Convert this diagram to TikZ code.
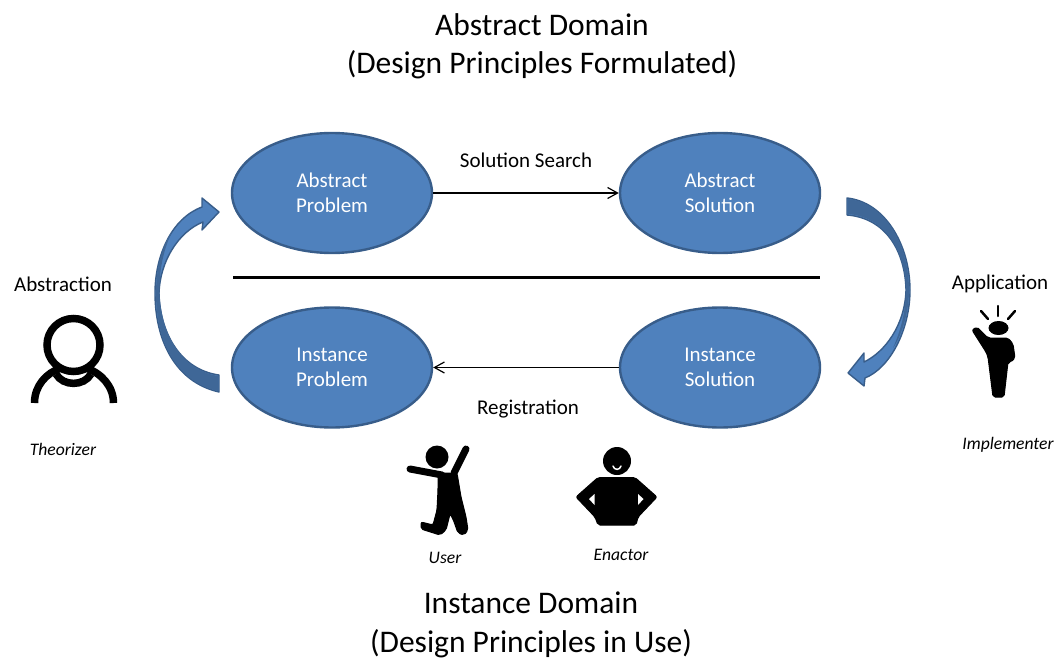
\documentclass[tikz,border=0pt]{standalone}
\usepackage{fontspec}
\setmainfont{Carlito}
\usetikzlibrary{arrows.meta,shapes.geometric}
\definecolor{blueF}{HTML}{4F81BD}
\definecolor{blueL}{HTML}{385D8A}
\definecolor{blueD}{HTML}{3F6797}
\tikzset{
  x=1pt,y=-1pt,
  state/.style={ellipse,draw=blueL,line width=2.4pt,fill=blueF,minimum width=200pt,minimum height=120pt,inner sep=0pt,text=white,align=center,font=\fontsize{21}{24.5}\selectfont},
  title/.style={align=center,inner sep=0pt,font=\fontsize{31.5}{38.5}\selectfont},
  lab/.style={font=\fontsize{21}{24}\selectfont},
  role/.style={font=\fontsize{17.6}{20}\selectfont\itshape},
  flow/.style={draw=black,line width=1.2pt,-{Straight Barb[length=10pt,width=11pt,line width=1.2pt]}},
  curl/.style={fill=blueF,draw=blueL,line width=1.4pt,line join=round},
  fold/.style={fill=blueD,draw=none},
  icon/.style={fill=black,draw=black,line width=1pt,line join=round,rounded corners=2pt},
  ring/.style={draw=black,line width=7.5pt},
  limb/.style={draw=black,line width=7pt,line cap=round}
}
\begin{document}
\begin{tikzpicture}
\useasboundingbox (0,0) rectangle (1056,660);
% titles
\node[title] (t1) at (542,46.5) {Abstract Domain\\(Design Principles Formulated)};
\node[title] (t2) at (531,625) {Instance Domain\\(Design Principles in Use)};
% states
\node[state] (ap) at (332,193) {Abstract\\Problem};
\node[state] (as) at (720,193) {Abstract\\Solution};
\node[state] (ip) at (332,367.5) {Instance\\Problem};
\node[state] (is) at (720,367.5) {Instance\\Solution};
\draw[flow] (ap) -- (as);
\draw[flow] (is) -- (ip);
\coordinate (divL) at (233,277);
\coordinate (divR) at (820,277);
\draw[line width=3pt,black] (divL) -- (divR);
% labels
\node[lab] (l1) at (526,160) {Solution Search};
\node[lab] (l2) at (528,409.5) {Registration};
\node[lab] (l3) at (63,284.5) {Abstraction};
\node[lab] (l4) at (1000,283.5) {Application};
\node[role] (r1) at (63,449.5) {Theorizer};
\node[role] (r2) at (1008,444.5) {Implementer};
\node[role] (r3) at (445,558) {User};
\node[role] (r4) at (621,555) {Enactor};
% left curved arrow
\draw[curl] (219,392) .. controls (175,382) and (155,340) .. (155,293)
  .. controls (155,255) and (172,218) .. (202,207) -- (202,198) -- (219,212) -- (202,230) -- (203,222)
  .. controls (178,232) and (160,262) .. (159,293)
  .. controls (160,335) and (182,370) .. (219,375) -- cycle;
\fill[fold] (218,391) .. controls (175,381) and (156,340) .. (156,293)
  .. controls (156,270) and (162,245) .. (172,232) .. controls (163,250) and (159,272) .. (159.5,293)
  .. controls (161,335) and (182,370) .. (218,376) -- cycle;
% right curved arrow
\draw[curl] (847,198) .. controls (885,202) and (910,245) .. (910,290)
  .. controls (910,330) and (890,368) .. (865,378) -- (864,386) -- (848,373) -- (864,353) -- (864,362)
  .. controls (885,352) and (905,325) .. (906,290)
  .. controls (905,250) and (885,218) .. (847,215) -- cycle;
\fill[fold] (848,199) .. controls (885,203) and (909,245) .. (909,290)
  .. controls (909,312) and (902,335) .. (893,348) .. controls (901,330) and (906,310) .. (906,290)
  .. controls (905,250) and (885,217) .. (848,214) -- cycle;
% Theorizer icon
\draw[ring] (73.5,345) circle (26.5);
\draw[ring] (34.5,403) .. controls (34.5,386) and (46,373) .. (61,368);
\draw[ring] (113.5,403) .. controls (113.5,386) and (101,373) .. (86,368);
\draw[ring] (56,374) .. controls (63,386.5) and (84,386.5) .. (91,374);
% Implementer icon
\draw[black,line width=2.5pt,line cap=round] (981,311) -- (988,319);
\draw[black,line width=2.5pt,line cap=round] (998,306) -- (998,316);
\draw[black,line width=2.5pt,line cap=round] (1015,311) -- (1008,319);
\fill[black] (998.5,328) ellipse[x radius=10,y radius=7];
\draw[icon] (972,330) -- (977,327) -- (988,338) -- (1008,338) -- (1013,344) -- (1015,358) -- (1011,362) -- (1008,362)
  -- (1004,397) -- (993,397) -- (988,357) -- (986,352) -- cycle;
% User icon
\fill[black] (437,457) circle (11.5);
\draw[limb] (410,469) -- (442,475);
\draw[limb] (466,449) -- (454,473);
\draw[icon] (438,473) -- (457,473) -- (461,497) -- (466,517) -- (468,530) -- (464,535) -- (458,533) -- (453,519) -- (450,514)
  -- (446,530) -- (440,535) -- (421,529) -- (421,522) -- (433,525) -- (437,510) -- (438,490) -- cycle;
% Enactor icon
\fill[black] (617,461) circle (14);
\draw[white,line width=1.5pt,line cap=round] (613,466) .. controls (614,470.5) and (620,470.5) .. (621,466);
\draw[icon] (598,477.5) -- (635,477.5) -- (657,497) -- (638,517) -- (636,525) -- (598,525) -- (595,517) -- (576,497) -- cycle;
\fill[white] (594.5,494) -- (589,499) -- (594.5,505) -- cycle;
\fill[white] (638,494) -- (643.5,499) -- (638,505) -- cycle;
\end{tikzpicture}
\end{document}
